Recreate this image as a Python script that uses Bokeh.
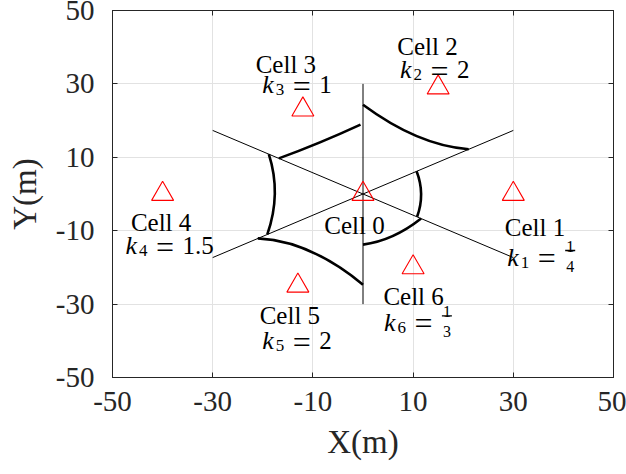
import numpy as np
from bokeh.plotting import figure
from bokeh.models import ColumnDataSource, FixedTicker, LinearAxis, Range1d
from bokeh.core.properties import value
from bokeh.embed import file_html
from bokeh.resources import INLINE

# Base stations: Cell 0 is the serving cell, Cells 1-6 are its neighbours
cell_ids = [0, 1, 2, 3, 4, 5, 6]
cell_x = [0, 30, 15, -12, -40, -13, 10]
cell_y = [0, 0, 29, 23, 0, -25, -20]

# bias factor k_i of neighbours 1..6 (numerator / denominator, None = plain number)
k_num = ["1", "2", "1", "1.5", "2", "1"]
k_den = ["4", None, None, None, None, "3"]

# sector dividers through Cell 0
div_x0 = [-30, -30, 0]
div_y0 = [-17.32, 17.32, -30]
div_x1 = [30, 30, 0]
div_y1 = [17.32, -17.32, 30]

# coverage boundary of Cell 0 against neighbours 1..6: start, middle and end points
arc_x0 = [10.7, 0.0, -16.8, -18.8, -21.0, 0.0]
arc_y0 = [6.2, 24.3, 9.7, 10.85, -12.1, -13.8]
arc_xm = [11.6, 10.8, -8.7, -17.6, -10.5, 5.9]
arc_ym = [0.0, 15.7, 14.0, 0.0, -15.6, -11.5]
arc_x1 = [10.8, 21.1, -0.5, -19.1, 0.0, 11.6]
arc_y1 = [-6.2, 12.2, 18.9, -11.0, -24.7, -6.7]

axis_ticks = [-50, -30, -10, 10, 30, 50]
grid_ticks = [-30, -10, 10, 30]

# ---- layout ----
W, H = 626, 474
BL, BR, BT, BB = 112, 13, 10, 97
FW, FH = W - BL - BR, H - BT - BB
SERIF = "Liberation Serif"
AX_COL = "#262626"

p = figure(width=W, height=H, x_range=Range1d(-50, 50), y_range=Range1d(-50, 50),
           min_border_left=BL, min_border_right=BR, min_border_top=BT, min_border_bottom=BB,
           output_backend="svg", toolbar_location=None)
p.background_fill_color = "white"
p.border_fill_color = "white"
p.outline_line_color = AX_COL
p.outline_line_width = 1

labels = {t: str(t) for t in axis_ticks}
for ax in (p.xaxis[0], p.yaxis[0]):
    ax.ticker = FixedTicker(ticks=axis_ticks)
    ax.major_label_overrides = labels
    ax.major_tick_in = 5
    ax.major_tick_out = 0
    ax.minor_tick_in = 0
    ax.minor_tick_out = 0
    ax.axis_line_color = AX_COL
    ax.major_tick_line_color = AX_COL
    ax.major_label_text_font = SERIF
    ax.major_label_text_font_size = "29px"
    ax.major_label_text_color = AX_COL
    ax.axis_label_text_font = SERIF
    ax.axis_label_text_font_size = "33px"
    ax.axis_label_text_font_style = "normal"
    ax.axis_label_text_color = AX_COL
p.xaxis.axis_label = "X(m)"
p.yaxis.axis_label = "Y(m)"
p.xaxis.major_label_standoff = 14
p.yaxis.major_label_standoff = 18
p.xaxis.axis_label_standoff = 10
p.yaxis.axis_label_standoff = 10

# tick marks on the top and right edges of the box
for side in ("above", "right"):
    ax = LinearAxis(ticker=FixedTicker(ticks=axis_ticks),
                    major_label_overrides={t: "" for t in axis_ticks},
                    major_label_text_font_size="8px",
                    major_label_standoff=0, major_tick_in=5, major_tick_out=0,
                    minor_tick_in=0, minor_tick_out=0,
                    axis_line_color=AX_COL, major_tick_line_color=AX_COL)
    p.add_layout(ax, side)

p.xgrid.ticker = FixedTicker(ticks=grid_ticks)
p.ygrid.ticker = FixedTicker(ticks=grid_ticks)
p.grid.grid_line_color = "#e2e2e2"
p.grid.grid_line_width = 1

# sector dividers
p.segment(x0=div_x0, y0=div_y0, x1=div_x1, y1=div_y1, line_color="black", line_width=1)

# boundary arcs as quadratic curves passing through the middle point
ax0, ay0 = np.array(arc_x0), np.array(arc_y0)
axm, aym = np.array(arc_xm), np.array(arc_ym)
ax1, ay1 = np.array(arc_x1), np.array(arc_y1)
p.quadratic(x0=ax0, y0=ay0, x1=ax1, y1=ay1,
            cx=2 * axm - (ax0 + ax1) / 2, cy=2 * aym - (ay0 + ay1) / 2,
            line_color="black", line_width=2.6)

# base stations
p.scatter(x=cell_x, y=cell_y, marker="triangle", size=22, fill_color=None,
          line_color="red", line_width=1.1)

# cell names (offsets in screen pixels, y down)
name_dx = [-8.5, 21.7, -10.7, -17, -1.5, -8, 0.5]
name_dy = [31, 33, -41, -45, 28, 30, 29]
p.text(x=cell_x, y=cell_y, text=[f"Cell {i}" for i in cell_ids],
       x_offset=name_dx, y_offset=name_dy, text_font=value(SERIF),
       text_font_size="25px", text_align="center", text_baseline="alphabetic",
       text_color="black")

# k_i labels
k_dx = [-6.1, -38.1, -40.6, -37.2, -35.5, -29.2]
k_dy = [63, -17.7, -25, 51.5, 55, 55]
nx, ny = cell_x[1:], cell_y[1:]
common = dict(text_font=value(SERIF), text_baseline="alphabetic", text_color="black")
p.text(x=nx, y=ny, text=["k"] * 6, x_offset=k_dx, y_offset=k_dy,
       text_font_size="26px", text_font_style="italic", text_align="left", **common)
p.text(x=nx, y=ny, text=[str(i) for i in cell_ids[1:]],
       x_offset=[d + 13.5 for d in k_dx], y_offset=[d + 5 for d in k_dy],
       text_font_size="17px", text_align="left", **common)
p.text(x=nx, y=ny, text=["="] * 6,
       x_offset=[d + 39.5 for d in k_dx], y_offset=[d + 1 for d in k_dy],
       text_font_size="32px", text_align="center", **common)

plain = [i for i in range(6) if k_den[i] is None]
p.text(x=[nx[i] for i in plain], y=[ny[i] for i in plain], text=[k_num[i] for i in plain],
       x_offset=[k_dx[i] + 57 for i in plain], y_offset=[k_dy[i] for i in plain],
       text_font_size="25px", text_align="left", **common)

frac = [i for i in range(6) if k_den[i] is not None]
fx = [nx[i] for i in frac]
fy = [ny[i] for i in frac]
p.text(x=fx, y=fy, text=[k_num[i] for i in frac],
       x_offset=[k_dx[i] + 63 for i in frac], y_offset=[k_dy[i] - 10.5 for i in frac],
       text_font_size="16px", text_align="center", **common)
p.text(x=fx, y=fy, text=[k_den[i] for i in frac],
       x_offset=[k_dx[i] + 63 for i in frac], y_offset=[k_dy[i] + 9.5 for i in frac],
       text_font_size="16px", text_align="center", **common)
# fraction bars
ppx, ppy = FW / 100.0, FH / 100.0
p.rect(x=[fx[j] + (k_dx[i] + 63) / ppx for j, i in enumerate(frac)],
       y=[fy[j] - (k_dy[i] - 6.5) / ppy for j, i in enumerate(frac)],
       width=10, height=1.4, width_units="screen", height_units="screen",
       fill_color="black", line_color=None)

open("out.html", "w").write(file_html(p, INLINE))
